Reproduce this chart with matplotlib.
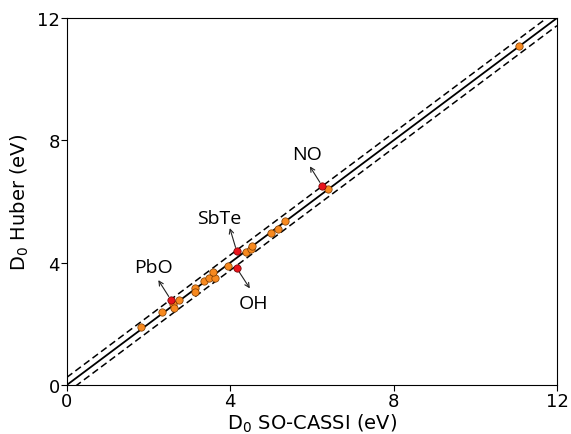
import numpy as np
import matplotlib
matplotlib.use("Agg")
import matplotlib.pyplot as plt

# D0 values (eV): SO-CASSI (x) vs Huber (y)
x_orange = [1.81, 2.33, 2.59, 2.63, 2.75, 3.13, 3.15, 3.36, 3.48, 3.62,
            3.58, 3.95, 4.38, 4.51, 4.53, 5.01, 5.17, 5.35, 6.40, 11.07]
y_orange = [1.89, 2.39, 2.65, 2.53, 2.78, 3.16, 3.05, 3.39, 3.49, 3.49,
            3.68, 3.88, 4.36, 4.45, 4.54, 4.98, 5.10, 5.35, 6.41, 11.08]

red_names = ["PbO", "SbTe", "OH", "NO"]
x_red = [2.55, 4.16, 4.16, 6.25]
y_red = [2.78, 4.37, 3.82, 6.51]
# label centres and arrow tips
label_x = [2.11, 3.72, 4.58, 5.88]
label_y = [3.86, 5.46, 2.68, 7.55]
head_x = [2.24, 3.99, 4.48, 5.95]
head_y = [3.43, 5.13, 3.16, 7.15]

band = 0.25
lim = 12

fig = plt.figure(figsize=(5.71, 4.35), dpi=100)
ax = fig.add_axes([0.117, 0.1126, 0.8585, 0.8437])

line = np.array([0, lim])
ax.plot(line, line, color="black", lw=1.3, zorder=1)
ax.plot(line, line + band, color="black", lw=1.1, ls=(0, (4.5, 2.5)), zorder=1)
ax.plot(line, line - band, color="black", lw=1.1, ls=(0, (4.5, 2.5)), zorder=1)

ax.scatter(x_orange, y_orange, s=28, color="#f7891f", edgecolor="#7a3a00",
           linewidth=0.5, zorder=3)
ax.scatter(x_red, y_red, s=28, color="#e8141c", edgecolor="#6a0000",
           linewidth=0.5, zorder=4)

for name, px, py, hx, hy, tx, ty in zip(red_names, x_red, y_red,
                                        head_x, head_y, label_x, label_y):
    ax.annotate("", xy=(hx, hy), xytext=(px, py),
                arrowprops=dict(arrowstyle="->", color="#222222", lw=0.8,
                                shrinkA=3, shrinkB=0, mutation_scale=8))
    ax.text(tx, ty, name, ha="center", va="center", fontsize=14,
            family="Open Sans")

ax.set_xlim(0, lim)
ax.set_ylim(0, lim)
ax.set_xticks([0, 4, 8, 12])
ax.set_yticks([0, 4, 8, 12])
ax.tick_params(labelsize=13, length=4, pad=1)
ax.set_xlabel(r"D$_0$ SO-CASSI (eV)", fontsize=14, labelpad=1)
ax.set_ylabel(r"D$_0$ Huber (eV)", fontsize=14, labelpad=4)

fig.savefig("out.png", dpi=100)
